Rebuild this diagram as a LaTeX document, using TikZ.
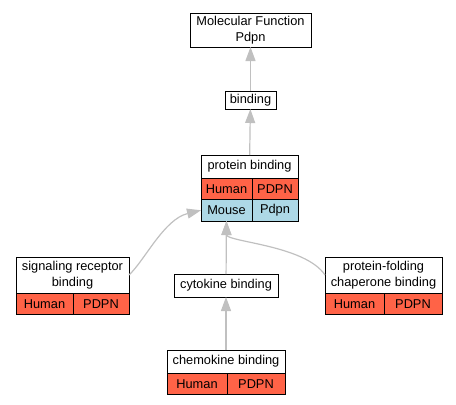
\documentclass[tikz,border=0pt]{standalone}
\usepackage{fontspec}
\setmainfont{Liberation Sans}
\usetikzlibrary{arrows.meta, positioning}
\definecolor{tomato}{RGB}{255, 99, 71}
\definecolor{lightblue}{RGB}{173, 216, 230}
\definecolor{edgegray}{RGB}{192, 192, 192}

\begin{document}
\begin{tikzpicture}[
  x=1pt, y=-1pt,
  every node/.style={font=\fontsize{12.8}{15.5}\selectfont, inner sep=0pt, outer sep=0pt, align=center},
  term/.style={draw, fill=white, line width=1pt, anchor=north west},
  cell/.style={draw, line width=1pt, minimum height=21.5pt},
  human/.style={cell, fill=tomato},
  mouse/.style={cell, fill=lightblue},
  isa/.style={draw=edgegray, line width=1.2pt, -{Triangle[length=14pt, width=10pt]}}
]
  \useasboundingbox (0,0) rectangle (456,405);

  % GO terms
  \node[term, minimum width=121pt, minimum height=34pt] (mf) at (190,13) {Molecular Function\\Pdpn};
  \node[term, minimum width=51pt, minimum height=18pt] (bind) at (225,91) {binding};

  \node[term, minimum width=97pt, minimum height=23pt] (pb) at (201,155) {protein binding};
  \node[human, minimum width=51pt, anchor=north west] (pbHs) at (pb.south west) {Human};
  \node[human, minimum width=46pt, right=0pt of pbHs] (pbHg) {PDPN};
  \node[mouse, minimum width=51pt, below=0pt of pbHs] (pbMs) {Mouse};
  \node[mouse, minimum width=46pt, right=0pt of pbMs] (pbMg) {Pdpn};

  \node[term, minimum width=113pt, minimum height=36pt] (sig) at (16,257) {signaling receptor\\binding};
  \node[human, minimum width=57pt, anchor=north west] (sigHs) at (sig.south west) {Human};
  \node[human, minimum width=56pt, right=0pt of sigHs] (sigHg) {PDPN};

  \node[term, minimum width=117pt, minimum height=36pt] (chap) at (325,257) {protein-folding\\chaperone binding};
  \node[human, minimum width=59pt, anchor=north west] (chapHs) at (chap.south west) {Human};
  \node[human, minimum width=58pt, right=0pt of chapHs] (chapHg) {PDPN};

  \node[term, minimum width=104pt, minimum height=23pt] (cyto) at (174,274) {cytokine binding};

  \node[term, minimum width=118pt, minimum height=23pt] (chemo) at (167,350) {chemokine binding};
  \node[human, minimum width=60pt, anchor=north west] (chemoHs) at (chemo.south west) {Human};
  \node[human, minimum width=58pt, right=0pt of chemoHs] (chemoHg) {PDPN};

  % is_a links
  \draw[isa] (bind) -- (mf);
  \draw[isa] (pb) -- (bind);
  \draw[isa] (cyto) -- (pbMs);
  \draw[isa] (chemo) -- (cyto);
  \draw[isa] (sig.east) .. controls +(16,-15) and +(-37,9) .. (pbMs.west);
  \draw[isa] (chap.west) .. controls +(-20,-30) and +(0,21) .. (pbMs.south);
\end{tikzpicture}
\end{document}
